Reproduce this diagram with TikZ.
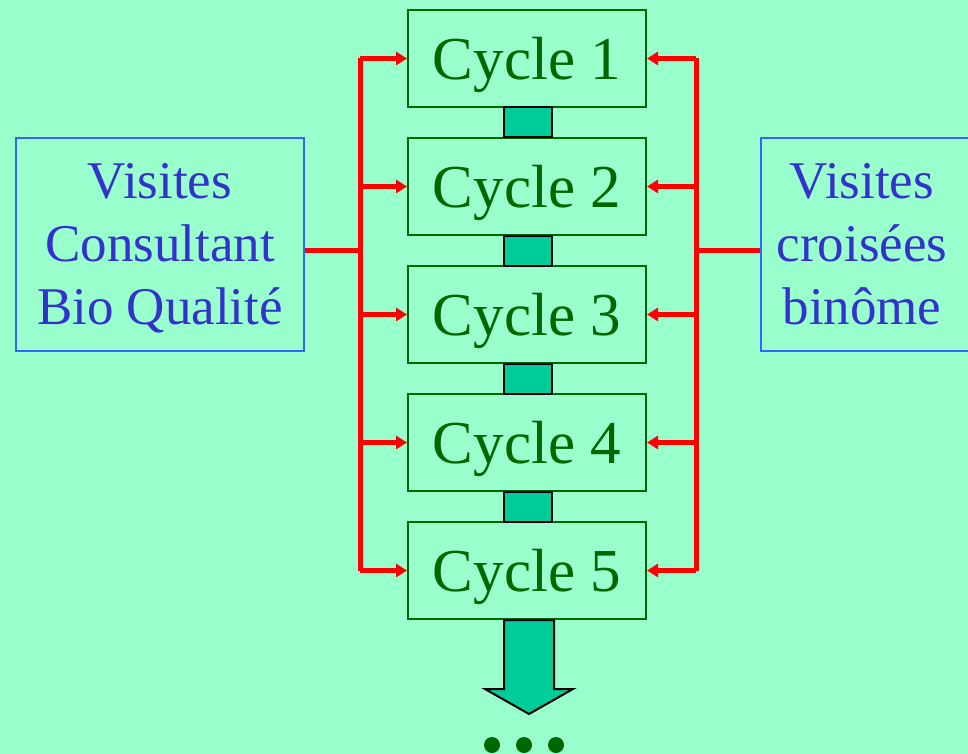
\documentclass[tikz,border=0pt]{standalone}
\usepackage{fontspec}
\setmainfont{Liberation Serif}
\usetikzlibrary{arrows.meta}
\definecolor{bg}{HTML}{99FFCC}
\definecolor{cyclegreen}{HTML}{006600}
\definecolor{linkfill}{HTML}{00CC99}
\definecolor{bluebord}{HTML}{3366FF}
\definecolor{bluetext}{HTML}{3333CC}
\newcommand{\lowertext}[2]{\raisebox{-#1}[\height][\depth]{#2}}
\tikzset{
  cyclebox/.style={draw=cyclegreen, line width=2pt, minimum width=238pt, minimum height=97pt, inner sep=0pt, text=cyclegreen, font=\fontsize{61}{61}\selectfont},
  visitbox/.style={draw=bluebord, line width=2pt, minimum height=213pt, inner sep=0pt, text=bluetext, align=center, font=\fontsize{53}{63}\selectfont},
  linkbox/.style={draw=black, line width=2pt, fill=linkfill, minimum width=48pt, minimum height=30pt, inner sep=0pt},
  redline/.style={draw=red, line width=5pt},
  redarrow/.style={draw=red, line width=5pt, -{Triangle[length=11pt,width=13pt]}},
  dot/.style={circle, fill=cyclegreen, minimum size=16pt, inner sep=0pt},
}
\begin{document}
\begin{tikzpicture}[x=1pt,y=-1pt]
\fill[bg] (0,0) rectangle (968,754);
\useasboundingbox (0,0) rectangle (968,754);
% cycle boxes
\node[cyclebox] (c1) at (527,58.5) {\lowertext{6pt}{Cycle 1}};
\node[cyclebox] (c2) at (527,186.5) {\lowertext{6pt}{Cycle 2}};
\node[cyclebox] (c3) at (527,314.5) {\lowertext{6pt}{Cycle 3}};
\node[cyclebox] (c4) at (527,442.5) {\lowertext{6pt}{Cycle 4}};
\node[cyclebox] (c5) at (527,570.5) {\lowertext{6pt}{Cycle 5}};
% links
\node[linkbox] (s1) at (528,122.5) {};
\node[linkbox] (s2) at (528,250.5) {};
\node[linkbox] (s3) at (528,378.5) {};
\node[linkbox] (s4) at (528,506.5) {};
% side boxes
\node[visitbox, minimum width=288pt] (L) at (160,244.5) {\lowertext{4pt}{\begin{tabular}{@{}c@{}}Visites\\Consultant\\Bio Qualité\end{tabular}}};
\node[visitbox, minimum width=214pt] (R) at (868,244.5) {\lowertext{4pt}{\begin{tabular}{@{}c@{}}Visites\\croisées\\binôme\end{tabular}}\hspace*{12pt}};
% junctions
\coordinate (jl) at (360,250);
\coordinate (jr) at (696,250);
\draw[redline] (jl -| L.east) -- (jl);
\draw[redline] (jr -| R.west) -- (jr);
\draw[redline] (jl |- c1.west) -- (jl |- c5.west);
\draw[redline] (jr |- c1.east) -- (jr |- c5.east);
\foreach \c in {c1,c2,c3,c4,c5}{
  \draw[redarrow] (jl |- \c.west) -- (\c.west);
  \draw[redarrow] (jr |- \c.east) -- (\c.east);
}
% down arrow
\draw[fill=linkfill, line width=2pt, line join=miter] (c5.south -| 504,0) -- (504,689) -- (485,689) -- (529,714) -- (573,689) -- (554,689) -- (c5.south -| 554,0) -- cycle;
% dots
\node[dot] (d1) at (492,745) {};
\node[dot] (d2) at (524,745) {};
\node[dot] (d3) at (556,745) {};
\end{tikzpicture}
\end{document}
